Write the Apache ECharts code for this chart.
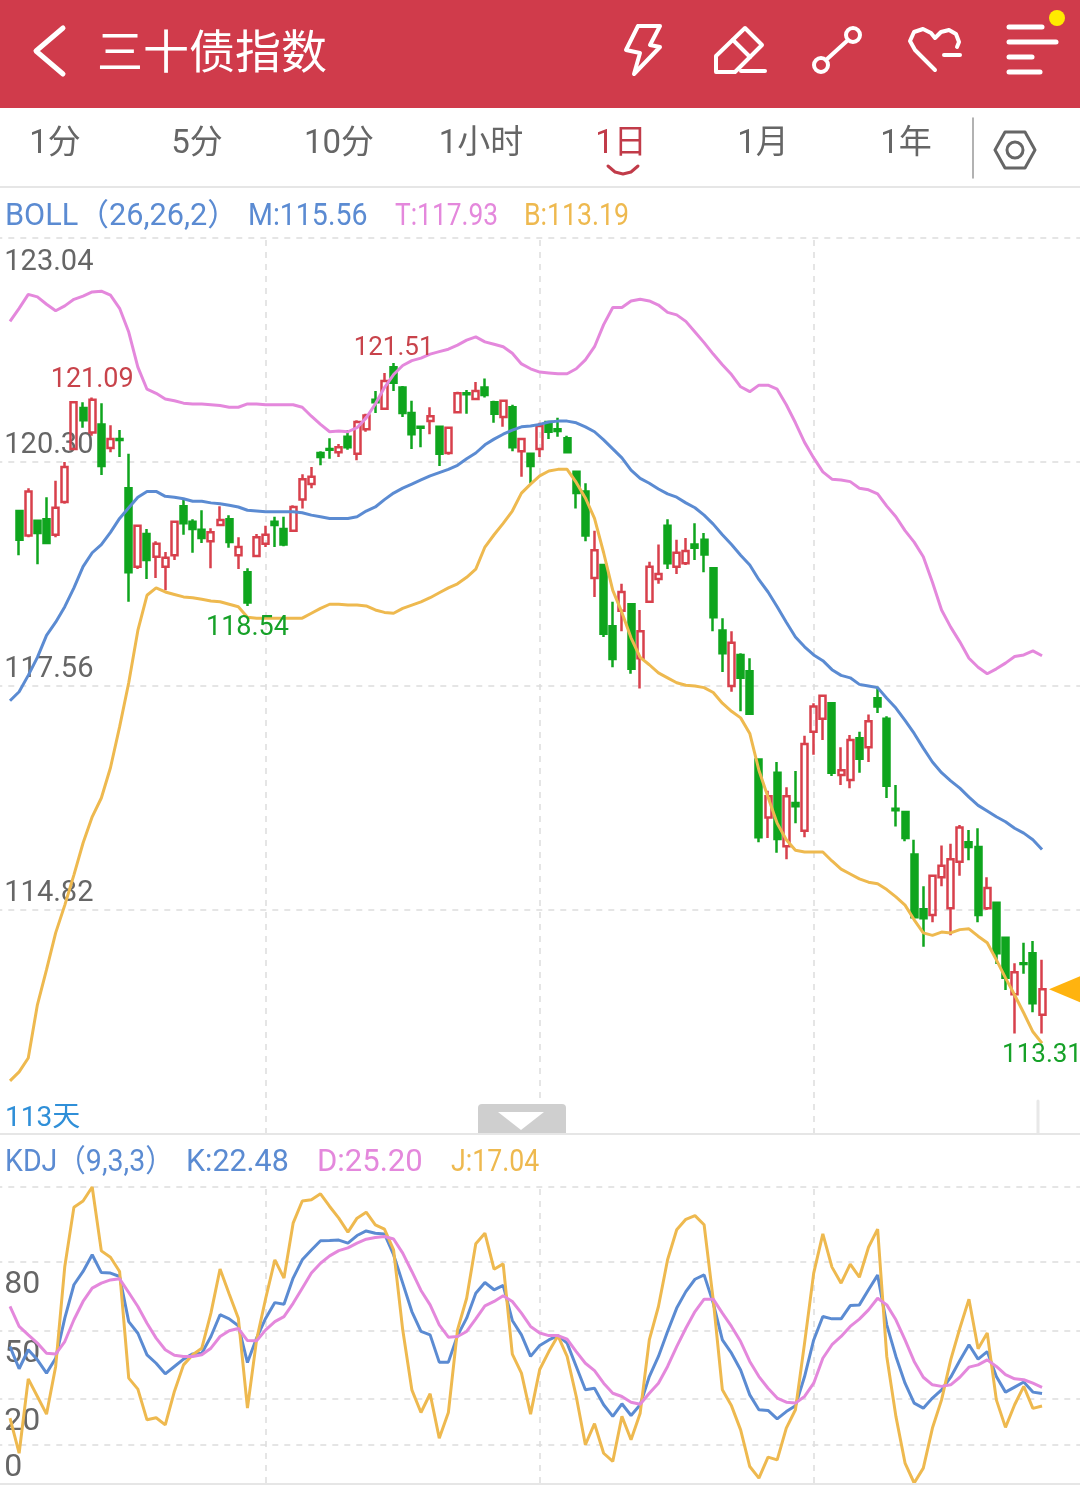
<!DOCTYPE html>
<html>
<head>
<meta charset="utf-8">
<title>三十债指数</title>
<script src="https://cdn.jsdelivr.net/npm/echarts@6/dist/echarts.min.js"></script>
<style>html,body{margin:0;padding:0;background:#fff}#main{width:1080px;height:1491px}</style>
</head>
<body>
<div id="main"></div>
<script>
// candles start on the second slot, the indicator lines on the first
var opens = [
119.70,119.40,119.58,119.60,119.41,119.81,120.46,120.96,120.66,120.76,
120.47,120.58,119.98,119.02,119.42,119.14,119.02,119.16,119.76,119.57,
119.47,119.33,119.53,119.60,119.16,118.95,119.15,119.30,119.57,119.48,
119.46,119.84,120.03,120.41,120.46,120.42,120.61,120.40,120.70,121.06,
120.95,121.46,121.21,120.90,120.73,120.80,120.73,120.41,120.91,121.14,
121.07,121.21,121.03,120.85,120.97,120.43,120.40,120.46,120.79,120.70,
120.59,120.18,119.94,118.88,119.04,118.29,118.48,118.56,117.90,118.59,
118.87,119.52,119.02,119.06,119.29,119.35,119.00,118.24,117.56,117.94,
117.74,116.66,115.95,116.50,115.60,116.13,115.79,117.00,117.16,117.35,
116.47,116.41,116.92,116.81,117.41,117.16,116.06,116.02,115.50,114.83,
114.76,115.22,114.84,115.41,115.65,115.59,114.84,114.91,114.48,113.79,
114.17,114.29,113.54];
var closes = [
119.35,119.94,119.43,119.31,119.74,120.24,121.03,120.81,121.06,120.25,
120.58,120.57,118.95,119.52,119.10,119.30,119.13,119.57,119.55,119.48,
119.37,119.44,119.59,119.32,119.26,118.58,119.38,119.41,119.53,119.29,
119.75,120.09,120.12,120.36,120.45,120.48,120.48,120.79,120.87,121.03,
121.29,121.27,120.90,120.64,120.72,120.86,120.40,120.72,121.14,121.13,
121.17,121.12,120.89,121.05,120.48,120.58,120.25,120.74,120.67,120.68,
120.42,119.92,119.40,119.22,118.20,117.89,118.71,117.77,118.23,119.02,
118.93,119.06,119.19,119.21,119.25,119.17,118.40,117.96,118.09,117.66,
117.22,115.71,116.21,115.69,116.21,116.09,116.85,117.31,117.44,116.50,
116.53,116.90,116.67,117.13,117.31,116.34,116.04,115.70,114.73,114.72,
115.24,115.36,115.44,115.83,115.59,114.76,115.09,114.29,113.99,114.06,
114.16,113.68,113.85];
var lows = [
119.16,119.38,119.05,119.31,119.38,119.79,120.45,120.72,120.62,120.14,
120.42,120.36,118.59,118.99,118.87,118.88,118.73,119.10,119.41,119.19,
119.31,119.00,119.52,119.25,118.99,118.54,119.14,119.26,119.26,119.27,
119.46,119.73,119.98,120.26,120.34,120.36,120.45,120.32,120.67,120.90,
120.95,121.17,120.85,120.46,120.48,120.64,120.25,120.39,120.90,120.89,
121.06,121.09,120.78,120.73,120.43,120.12,120.04,120.36,120.58,120.61,
120.41,119.73,119.33,118.65,118.16,117.79,118.23,117.71,117.53,118.58,
118.81,118.99,118.93,119.04,119.10,118.95,118.23,117.73,117.49,117.25,
117.21,115.65,115.70,115.52,115.44,115.88,115.71,116.72,116.90,116.46,
116.35,116.31,116.50,116.63,117.23,116.19,115.84,115.66,114.73,114.37,
114.67,115.11,114.51,115.24,115.43,114.67,114.82,114.16,113.84,113.31,
114.04,113.57,113.31];
var highs = [
119.70,119.98,119.58,119.87,120.07,120.30,121.03,121.03,121.09,121.02,
120.75,120.69,120.40,119.52,119.48,119.33,119.20,119.58,119.86,119.60,
119.71,119.49,119.76,119.65,119.38,119.00,119.42,119.52,119.63,119.63,
119.77,120.15,120.24,120.43,120.59,120.52,120.69,120.81,120.89,121.17,
121.39,121.51,121.23,121.05,120.74,120.97,120.73,120.73,121.16,121.18,
121.28,121.32,121.05,121.06,121.00,120.59,120.41,120.78,120.80,120.84,
120.62,120.18,120.04,119.46,119.04,118.59,118.81,118.56,118.49,119.08,
119.29,119.60,119.35,119.37,119.55,119.43,119.00,118.39,118.23,117.96,
117.90,116.67,116.28,116.63,116.32,116.52,116.95,117.35,117.44,117.35,
116.81,116.96,117.00,117.21,117.55,117.19,116.35,116.03,115.68,115.11,
115.25,115.61,115.63,115.86,115.80,115.82,115.22,114.91,114.49,114.17,
114.42,114.44,114.21];

var bollM = [
117.38,117.49,117.69,117.91,118.18,118.34,118.53,118.76,119.02,119.19,
119.29,119.44,119.61,119.74,119.87,119.94,119.94,119.88,119.87,119.85,
119.82,119.82,119.80,119.79,119.77,119.75,119.71,119.70,119.69,119.69,
119.69,119.69,119.68,119.65,119.63,119.61,119.61,119.61,119.63,119.70,
119.75,119.84,119.92,119.98,120.03,120.08,120.13,120.17,120.21,120.26,
120.34,120.41,120.51,120.58,120.64,120.69,120.73,120.74,120.76,120.79,
120.80,120.80,120.78,120.73,120.67,120.57,120.46,120.35,120.20,120.10,
120.04,119.97,119.91,119.87,119.80,119.74,119.65,119.54,119.41,119.29,
119.16,119.04,118.86,118.71,118.53,118.34,118.16,118.04,117.94,117.87,
117.76,117.69,117.66,117.58,117.56,117.54,117.41,117.29,117.14,116.98,
116.80,116.63,116.50,116.40,116.31,116.20,116.10,116.03,115.96,115.90,
115.82,115.76,115.68,115.56];
var bollT = [
122.02,122.18,122.35,122.32,122.23,122.15,122.21,122.29,122.33,122.38,
122.39,122.34,122.18,121.89,121.46,121.19,121.14,121.07,121.05,121.02,
121.01,121.01,121.00,120.99,120.97,120.97,121.01,121.01,121.00,121.00,
121.00,121.00,120.97,120.86,120.76,120.67,120.68,120.67,120.72,120.84,
121.01,121.21,121.37,121.48,121.54,121.57,121.62,121.65,121.68,121.73,
121.79,121.83,121.77,121.74,121.71,121.63,121.50,121.44,121.40,121.39,
121.38,121.38,121.44,121.55,121.71,121.98,122.19,122.19,122.27,122.29,
122.27,122.22,122.13,122.10,122.02,121.89,121.76,121.62,121.49,121.37,
121.22,121.16,121.24,121.24,121.19,121.00,120.78,120.54,120.35,120.18,
120.09,120.08,120.06,119.98,119.96,119.91,119.76,119.63,119.46,119.32,
119.14,118.83,118.49,118.28,118.10,117.90,117.79,117.71,117.77,117.84,
117.92,117.94,117.99,117.93];
var bollB = [
112.73,112.84,113.01,113.66,114.09,114.54,114.88,115.25,115.64,115.96,
116.19,116.56,117.06,117.60,118.24,118.67,118.76,118.71,118.68,118.65,
118.64,118.62,118.60,118.59,118.56,118.53,118.40,118.39,118.39,118.39,
118.39,118.39,118.39,118.45,118.51,118.56,118.56,118.55,118.55,118.54,
118.49,118.46,118.45,118.51,118.55,118.59,118.64,118.70,118.76,118.81,
118.89,118.99,119.26,119.41,119.55,119.70,119.92,120.03,120.13,120.19,
120.21,120.21,120.05,119.86,119.61,119.19,118.73,118.46,118.15,117.91,
117.82,117.72,117.66,117.60,117.57,117.56,117.54,117.48,117.35,117.25,
117.17,116.98,116.53,116.20,115.88,115.68,115.55,115.53,115.53,115.53,
115.42,115.32,115.26,115.20,115.16,115.14,115.07,114.98,114.88,114.70,
114.54,114.51,114.55,114.54,114.58,114.59,114.50,114.42,114.21,113.99,
113.78,113.56,113.33,113.19];

var kdjK = [
43.0,33.3,41.6,37.2,31.4,37.9,55.4,70.0,75.8,83.1,
75.3,75.1,73.6,53.9,48.8,39.4,35.7,31.1,34.3,37.5,
39.8,40.1,47.4,56.9,55.1,52.1,36.0,46.7,55.4,62.2,
61.5,72.9,80.9,85.2,89.2,89.3,89.5,88.2,91.5,93.5,
92.5,92.2,83.1,70.7,58.3,49.6,48.1,36.2,36.2,47.8,
55.4,66.3,71.0,67.8,69.7,54.4,48.1,38.7,43.5,45.9,
47.8,44.5,34.3,24.1,24.8,17.6,12.5,18.0,12.9,17.6,
29.9,38.7,49.6,59.8,67.0,72.4,74.3,62.0,45.9,40.1,
32.8,21.9,15.4,15.1,11.4,14.6,17.1,29.9,45.9,56.1,
55.1,55.1,60.9,61.2,67.8,74.2,52.5,38.7,27.0,18.3,
16.1,20.5,24.1,29.6,36.9,43.8,37.5,40.8,29.9,23.1,
25.3,27.5,23.1,22.48];
var kdjD = [
60.5,51.8,48.1,44.5,40.1,39.7,45.2,54.7,62.7,68.5,
70.7,72.1,72.6,66.6,60.5,53.2,46.7,41.6,39.2,38.7,
38.7,39.4,42.3,47.4,49.9,50.9,45.6,45.5,50.3,53.9,
56.1,61.9,68.5,75.1,79.4,82.6,84.9,86.1,88.2,89.9,
90.6,91.1,90.0,83.8,75.8,67.5,61.2,52.5,47.1,47.4,
49.6,55.1,60.8,62.7,65.2,62.7,57.6,51.8,48.9,47.8,
47.8,46.2,40.8,35.7,32.5,27.0,22.6,21.2,18.7,17.8,
22.6,27.0,34.3,43.0,51.0,58.3,63.7,63.7,57.6,51.8,
45.2,36.5,29.9,24.8,20.5,18.7,18.3,21.2,27.0,37.9,
43.8,47.4,51.8,55.0,59.0,64.1,61.2,54.7,45.9,36.5,
29.6,26.3,25.6,26.3,29.6,34.0,35.0,37.2,34.3,30.7,
28.9,28.5,27.0,25.20];
var kdjJ = [
11.7,-3.6,28.9,21.2,13.5,34.3,78.0,103.9,106.6,112.7,
84.8,82.0,75.8,29.2,24.4,11.0,11.9,8.8,23.4,35.0,
39.4,42.3,57.6,76.9,66.0,55.4,16.1,45.9,64.1,80.9,
72.9,96.9,106.6,107.1,109.7,104.2,99.1,93.0,99.1,101.7,
96.2,94.3,85.2,50.3,24.1,14.2,22.4,3.0,14.2,50.3,
64.1,87.9,92.5,76.8,79.1,39.7,31.4,13.5,33.0,40.8,
47.7,38.7,21.2,0.1,9.3,-3.6,-7.2,12.5,2.3,13.9,
45.9,60.5,80.9,94.0,98.6,100.2,96.2,63.4,24.1,17.1,
6.6,-9.4,-14.5,-5.3,-6.5,7.4,15.4,44.5,75.1,92.2,
77.7,70.7,79.0,73.3,86.4,94.3,38.7,12.5,-7.9,-16.6,
-10.1,7.4,19.7,37.2,51.0,63.7,42.0,48.9,19.7,7.7,
17.6,25.6,16.0,17.04];

var priceTicks = [114.82, 117.56, 120.30, 123.04];
var kdjTicks = [0, 20, 50, 80];
var priceMin = 112.08, priceMax = 123.04;
var kdjMin = -16.6, kdjMax = 112.7;
var tabs = ['1分', '5分', '10分', '1小时', '1日', '1月', '1年'];
var tabX = [55, 197, 339, 481, 621, 763, 906];
var dividers = [29, 59, 89]; // slots carrying a vertical dashed line
// slot numbers are line index + 1 (one empty slot so the grid reaches the left edge)
var priceMarks = [
	{ slot: 10, price: 121.09, off: -17, color: '#C8434B', size: 27 },
	{ slot: 43, price: 121.51, off: -15, color: '#C8434B', size: 26 },
	{ slot: 27, price: 118.54, off: 22, color: '#16A128', size: 27 },
	{ slot: 114, price: 113.31, off: 22, color: '#16A128', size: 26 }
];
var lastClose = closes[closes.length - 1];

var BLUE = '#5B8BD2', PINK = '#E488DC', ORANGE = '#EEB94F';
var RED = '#D8404C', GREEN = '#0FA51E';
var FONT = 'Roboto, "Noto Sans CJK SC", sans-serif';
var SLOTS = 120, STEP = 9.133;

var categories = [];
for (var s = 0; s < SLOTS; s++) categories.push('d' + s);

var candleData = [['-', '-', '-', '-'], ['-', '-', '-', '-']];
for (var i = 0; i < opens.length; i++) candleData.push([opens[i], closes[i], lows[i], highs[i]]);
function pad(arr) { return [null].concat(arr); }

function dashed(vals) {
	return {
		silent: true, symbol: 'none', z: 1, animation: false, label: { show: false },
		lineStyle: { color: '#DDDDDD', type: [6, 6], width: 1.5 },
		data: vals
	};
}
function line(name, data, color, xi, z) {
	return {
		name: name, type: 'line', data: pad(data), xAxisIndex: xi, yAxisIndex: xi, symbol: 'none', z: z || 4,
		lineStyle: { color: color, width: 3 }, itemStyle: { color: color }, connectNulls: false
	};
}
function verticals() { return dividers.map(function (d) { return { xAxis: d }; }); }
function horizontals(arr) { return arr.map(function (v) { return { yAxis: v }; }); }

function txt(t, x, y, size, color, align, sx) {
	return {
		type: 'text', z: 20, x: x, y: y, scaleX: sx || 1, silent: true,
		style: { text: t, x: 0, y: 0, fill: color, font: size + 'px ' + FONT, textAlign: align || 'left', textVerticalAlign: 'middle' }
	};
}
function stroke(points, color, w, smooth) {
	return { type: 'polyline', z: 20, silent: true, shape: { points: points, smooth: smooth || 0 }, style: { stroke: color, lineWidth: w, fill: null, lineCap: 'round', lineJoin: 'round' } };
}
function ring(cx, cy, r, color, w) {
	return { type: 'circle', z: 20, silent: true, shape: { cx: cx, cy: cy, r: r }, style: { stroke: color, lineWidth: w, fill: null } };
}

var W = '#FFFFFF', G = '#666666';
var graphics = [
	{ type: 'rect', z: 19, silent: true, shape: { x: 0, y: 0, width: 1080, height: 108 }, style: { fill: '#D03B4B' } },
	stroke([[63, 28], [36, 51], [63, 74]], W, 5),
	txt('三十债指数', 97, 56, 46, W),
	stroke([[638, 26], [660, 26], [650, 45], [660, 47], [634, 74], [640, 53], [626, 50], [638, 26]], W, 4),
	stroke([[716, 56], [745, 28], [762, 45], [735, 72], [716, 72], [716, 56]], W, 4),
	stroke([[733, 40], [750, 57]], W, 4),
	stroke([[741, 71], [765, 71]], W, 4),
	ring(821, 65, 7, W, 4), ring(853, 35, 7, W, 4),
	stroke([[826, 60], [848, 40]], W, 4),
	stroke([[935, 70], [926, 61], [915, 50], [910, 41], [914, 32], [923, 29], [931, 33], [935, 38], [941, 32], [949, 30], [956, 34], [959, 42], [957, 47]], W, 4),
	stroke([[944, 55], [960, 55]], W, 4),
	stroke([[1009, 27], [1042, 27]], W, 5),
	stroke([[1009, 42], [1056, 42]], W, 5),
	stroke([[1009, 57], [1032, 57]], W, 5),
	stroke([[1009, 72], [1040, 72]], W, 5),
	{ type: 'circle', z: 21, silent: true, shape: { cx: 1057, cy: 18, r: 8 }, style: { fill: '#FFEB00' } },
	stroke([[973, 118], [973, 178]], '#999999', 1.5),
	stroke([[995, 150], [1005, 132], [1025, 132], [1035, 150], [1025, 168], [1005, 168], [995, 150]], G, 3),
	ring(1015, 150, 8, G, 3),
	stroke([[608, 166], [615, 172], [623, 174], [631, 172], [638, 166]], '#C13B49', 3),
	stroke([[0, 187], [1080, 187]], '#E6E6E6', 2),
	txt('BOLL（26,26,2）', 5, 217, 31, BLUE, 'left', 0.99),
	txt('M:' + bollM[bollM.length - 1].toFixed(2), 248, 217, 31, BLUE, 'left', 0.92),
	txt('T:' + bollT[bollT.length - 1].toFixed(2), 395, 217, 31, PINK, 'left', 0.85),
	txt('B:' + bollB[bollB.length - 1].toFixed(2), 524, 217, 31, ORANGE, 'left', 0.86),
	txt(opens.length + '天', 5, 1119, 28, '#2F8FD8'),
	{ type: 'rect', z: 19, silent: true, shape: { x: 478, y: 1104, width: 88, height: 30, r: [4, 4, 0, 0] }, style: { fill: '#CFCFCF' } },
	{ type: 'polygon', z: 20, silent: true, shape: { points: [[498, 1112], [544, 1112], [521, 1130]] }, style: { fill: '#FFFFFF' } },
	stroke([[1038, 1101], [1038, 1133]], '#E8E8E8', 3),
	stroke([[0, 1134], [1080, 1134]], '#E6E6E6', 2),
	txt('KDJ（9,3,3）', 5, 1163, 31, BLUE, 'left', 0.92),
	txt('K:' + kdjK[kdjK.length - 1].toFixed(2), 186, 1163, 31, BLUE, 'left', 0.98),
	txt('D:' + kdjD[kdjD.length - 1].toFixed(2), 317, 1163, 31, PINK, 'left', 1.0),
	txt('J:' + kdjJ[kdjJ.length - 1].toFixed(2), 451, 1163, 31, ORANGE, 'left', 0.86),
	stroke([[0, 1484], [1080, 1484]], '#E6E6E6', 2)
];
tabs.forEach(function (t, k) {
	graphics.push(txt(t, tabX[k], 145, 33, t === '1日' ? '#C13B49' : G, 'center'));
});

var myChart = echarts.init(document.getElementById('main'));
var option = {
	animation: false,
	backgroundColor: '#FFFFFF',
	graphic: { elements: graphics },
	grid: [
		{ left: -3.7, top: 238, width: SLOTS * STEP, height: 896, outerBoundsMode: 'none' },
		{ left: -3.7, top: 1187, width: SLOTS * STEP, height: 296, outerBoundsMode: 'none' }
	],
	xAxis: [
		{ type: 'category', gridIndex: 0, data: categories, show: false },
		{ type: 'category', gridIndex: 1, data: categories, show: false }
	],
	yAxis: [
		{
			type: 'value', gridIndex: 0, min: priceMin, max: priceMax, scale: true,
			axisLine: { show: false }, axisTick: { show: false }, splitLine: { show: false },
			axisLabel: {
				customValues: priceTicks, inside: true, margin: 8, align: 'left', verticalAlign: 'bottom',
				verticalAlignMaxLabel: 'top', padding: [10, 0, 2, 0], color: G, fontSize: 29, fontFamily: FONT,
				formatter: function (v) { return v.toFixed(2); }
			}
		},
		{
			type: 'value', gridIndex: 1, min: kdjMin, max: kdjMax,
			axisLine: { show: false }, axisTick: { show: false }, splitLine: { show: false },
			axisLabel: {
				customValues: kdjTicks, inside: true, margin: 8, align: 'left', verticalAlign: 'top',
				padding: [7, 0, 0, 0], color: G, fontSize: 32, fontFamily: FONT
			}
		}
	],
	series: [
		{
			name: 'gridMain', type: 'line', data: [], xAxisIndex: 0, yAxisIndex: 0, z: 1,
			markLine: dashed(verticals().concat(horizontals(priceTicks)))
		},
		{
			name: 'gridKdj', type: 'line', data: [], xAxisIndex: 1, yAxisIndex: 1, z: 1,
			markLine: dashed(verticals().concat(horizontals(kdjTicks.concat([kdjMax]))))
		},
		{
			name: '三十债指数', type: 'candlestick', data: candleData, xAxisIndex: 0, yAxisIndex: 0, z: 3,
			barWidth: 6.5,
			itemStyle: { color: 'transparent', color0: GREEN, borderColor: RED, borderColor0: GREEN, borderWidth: 2.5 },
			markPoint: {
				silent: true, animation: false, z: 6,
				data: priceMarks.map(function (m) {
					return {
						coord: [m.slot, m.price], symbol: 'circle', symbolSize: 0, value: m.price.toFixed(2),
						label: { show: true, position: 'inside', offset: [0, m.off], color: m.color, fontSize: m.size, fontFamily: FONT, formatter: '{c}' }
					};
				}).concat([{
					coord: [116, lastClose], symbol: 'path://M0 13 L31 0 L31 26 Z', symbolSize: [31, 26], symbolOffset: [4.2, 0],
					itemStyle: { color: '#FFB30F' }, label: { show: false }
				}])
			}
		},
		line('M', bollM, BLUE, 0),
		line('T', bollT, PINK, 0),
		line('B', bollB, ORANGE, 0),
		line('K', kdjK, BLUE, 1),
		line('D', kdjD, PINK, 1, 5),
		line('J', kdjJ, ORANGE, 1)
	]
};
myChart.setOption(option);
</script>
</body>
</html>
